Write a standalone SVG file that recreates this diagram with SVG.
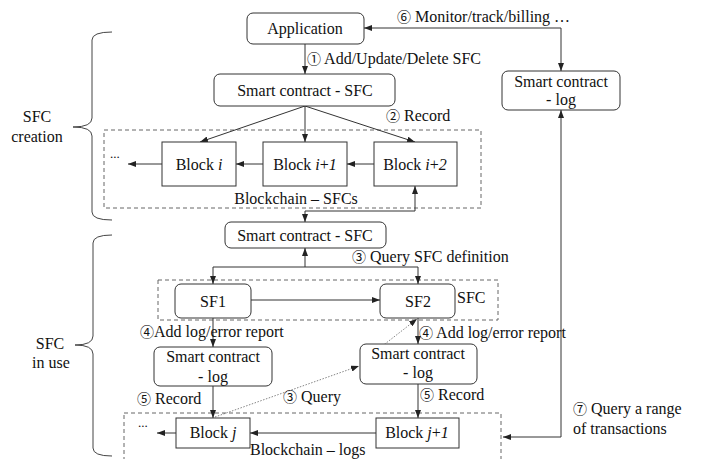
<svg xmlns="http://www.w3.org/2000/svg" width="708" height="459" viewBox="0 0 708 459" font-family="'Liberation Serif', 'Times New Roman', 'DejaVu Serif', serif">
<style>
text{font-family:"Liberation Serif","Times New Roman","DejaVu Serif",serif;font-size:16px;fill:#111}
.n{font-family:"Noto Sans CJK JP","DejaVu Sans",sans-serif;font-size:14px}
.c{text-anchor:middle}
.box{fill:#fff;stroke:#333;stroke-width:1}
.dash{fill:none;stroke:#666;stroke-width:1;stroke-dasharray:4 3}
.ln{fill:none;stroke:#333;stroke-width:1;marker-end:url(#ah)}
.bi{fill:none;stroke:#333;stroke-width:1;marker-start:url(#ahs);marker-end:url(#ah)}
.dot{fill:none;stroke:#666;stroke-width:0.8;stroke-dasharray:1.5 1.5;marker-end:url(#ah)}
.br{fill:none;stroke:#444;stroke-width:1}
</style>
<defs>
<marker id="ah" viewBox="0 0 8 6" refX="8" refY="3" markerWidth="8" markerHeight="6" markerUnits="userSpaceOnUse" orient="auto"><path d="M0,0 L8,3 L0,6 z" fill="#222"/></marker>
<marker id="ahs" viewBox="0 0 8 6" refX="0" refY="3" markerWidth="8" markerHeight="6" markerUnits="userSpaceOnUse" orient="auto"><path d="M8,0 L0,3 L8,6 z" fill="#222"/></marker>
</defs>

<!-- braces -->
<g id="brace-creation">
<path class="br" d="M112,32 Q92,32 92,40 L92,118 Q92,127 73,127 Q92,127 92,136 L92,212 Q92,220 112,220"/>
<text class="c" x="37" y="122">SFC</text>
<text class="c" x="37" y="142">creation</text>
</g>
<g id="brace-use">
<path class="br" d="M112,235 Q93,235 93,243 L93,336 Q93,345 75,345 Q93,345 93,354 L93,448 Q93,456 112,456"/>
<text class="c" x="50" y="349">SFC</text>
<text class="c" x="51" y="368">in use</text>
</g>

<!-- dashed containers -->
<g id="blockchain-sfcs">
<rect class="dash" x="104" y="130" width="377" height="78"/>
<text class="c" x="296" y="204">Blockchain – SFCs</text>
<text x="110" y="158" style="font-size:13px">...</text>
</g>
<g id="sfc-group">
<rect class="dash" x="158" y="280" width="340" height="40"/>
<text x="457" y="303">SFC</text>
</g>
<g id="blockchain-logs">
<rect class="dash" x="124" y="413" width="377" height="60"/>
<text x="250" y="455">Blockchain – logs</text>
<text x="138" y="427" style="font-size:13px">...</text>
</g>

<!-- connectors -->
<g id="connectors">
<path class="ln" d="M305,44 V74"/>
<path class="bi" d="M561,71 V28 H364"/>
<path class="ln" d="M305,106 L200,142"/>
<path class="ln" d="M305,106 V142"/>
<path class="ln" d="M305,106 L415,142"/>
<path class="ln" d="M162,164 H128"/>
<path class="ln" d="M263,164 H236"/>
<path class="ln" d="M374,164 H347"/>
<path class="bi" d="M415,186 V211 H305 V222"/>
<path class="bi" d="M561,110 V437 H503"/>
<path class="ln" d="M305,267 V248"/>
<path class="ln" d="M305,267 H213 V284"/>
<path class="ln" d="M305,267 H418 V284"/>
<path class="ln" d="M251,300 H380"/>
<path class="ln" d="M213,318 V347"/>
<path class="ln" d="M418,318 V344"/>
<path class="ln" d="M213,386 V418"/>
<path class="ln" d="M418,384 V418"/>
<path class="ln" d="M176,433 H157"/>
<path class="ln" d="M376,433 H250"/>
<path class="dot" d="M215,417 L359,366"/>
<path class="dot" d="M363,361 L417,319"/>
</g>

<!-- labels -->
<g id="labels">
<text x="307" y="64"><tspan class="n">①</tspan> Add/Update/Delete SFC</text>
<text x="397" y="22"><tspan class="n">⑥</tspan> Monitor/track/billing …</text>
<text x="386" y="121"><tspan class="n">②</tspan> Record</text>
<text x="352" y="262"><tspan class="n">③</tspan> Query SFC definition</text>
<text x="140" y="337"><tspan class="n">④</tspan>Add log/error report</text>
<text x="419" y="338"><tspan class="n">④</tspan> Add log/error report</text>
<text x="137" y="404"><tspan class="n">⑤</tspan> Record</text>
<text x="420" y="400"><tspan class="n">⑤</tspan> Record</text>
<text x="283" y="402"><tspan class="n">③</tspan> Query</text>
<text x="573" y="414"><tspan class="n">⑦</tspan> Query a range</text>
<text x="573" y="434">of transactions</text>
</g>

<!-- nodes -->
<g id="application">
<rect class="box" x="247" y="13" width="117" height="31" rx="6"/>
<text class="c" x="305" y="34">Application</text>
</g>
<g id="sc-sfc-1">
<rect class="box" x="214" y="74" width="181" height="32" rx="6"/>
<text class="c" x="305" y="96">Smart contract - SFC</text>
</g>
<g id="sc-log-top">
<rect class="box" x="502" y="71" width="118" height="39" rx="6"/>
<text class="c" x="561" y="87">Smart contract</text>
<text class="c" x="561" y="105">- log</text>
</g>
<g id="block-i">
<rect class="box" x="162" y="142" width="74" height="44"/>
<text class="c" x="199" y="170">Block <tspan font-style="italic">i</tspan></text>
</g>
<g id="block-i1">
<rect class="box" x="263" y="142" width="84" height="44"/>
<text class="c" x="305" y="170">Block <tspan font-style="italic">i</tspan>+<tspan font-style="italic">1</tspan></text>
</g>
<g id="block-i2">
<rect class="box" x="374" y="142" width="83" height="44"/>
<text class="c" x="415" y="170">Block <tspan font-style="italic">i</tspan>+<tspan font-style="italic">2</tspan></text>
</g>
<g id="sc-sfc-2">
<rect class="box" x="225" y="222" width="161" height="26" rx="6"/>
<text class="c" x="305" y="241">Smart contract - SFC</text>
</g>
<g id="sf1">
<rect class="box" x="175" y="284" width="76" height="34" rx="6"/>
<text class="c" x="213" y="307">SF1</text>
</g>
<g id="sf2">
<rect class="box" x="380" y="284" width="75" height="34" rx="6"/>
<text class="c" x="418" y="307">SF2</text>
</g>
<g id="sc-log-left">
<rect class="box" x="154" y="347" width="118" height="39" rx="6"/>
<text class="c" x="213" y="362">Smart contract</text>
<text class="c" x="213" y="382">- log</text>
</g>
<g id="sc-log-right">
<rect class="box" x="360" y="344" width="117" height="40" rx="6"/>
<text class="c" x="418" y="359">Smart contract</text>
<text class="c" x="418" y="378">- log</text>
</g>
<g id="block-j">
<rect class="box" x="176" y="418" width="74" height="30"/>
<text class="c" x="213" y="438">Block <tspan font-style="italic">j</tspan></text>
</g>
<g id="block-j1">
<rect class="box" x="376" y="418" width="83" height="30"/>
<text class="c" x="417" y="438">Block <tspan font-style="italic">j</tspan>+<tspan font-style="italic">1</tspan></text>
</g>
</svg>
